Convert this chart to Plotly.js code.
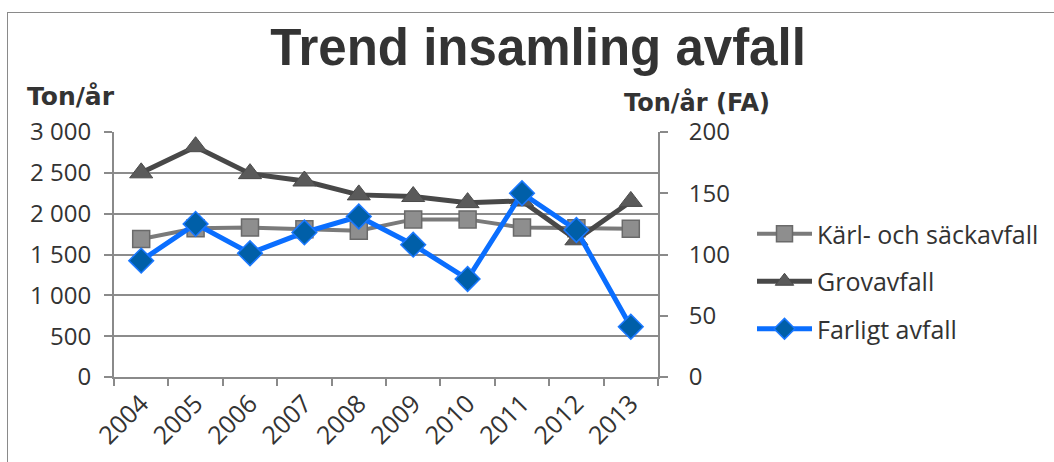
<!DOCTYPE html>
<html><head><meta charset="utf-8">
<script src="https://cdn.plot.ly/plotly-3.0.1.min.js"></script>
<style>
html,body{margin:0;padding:0;background:#fff;}
#frame{position:absolute;left:7px;top:12px;width:1060px;height:470px;border:1.5px solid #8a8a8a;box-sizing:border-box;}
#chart{position:absolute;left:0;top:0;width:1054px;height:462px;}
</style></head>
<body>
<div id="frame"></div>
<div id="chart"></div>
<script>
const years = ['2004','2005','2006','2007','2008','2009','2010','2011','2012','2013'];
const karl = [1690, 1820, 1830, 1810, 1790, 1930, 1930, 1830, 1820, 1815];
const grov = [2500, 2820, 2490, 2400, 2230, 2210, 2135, 2155, 1680, 2150];
const farligt = [95, 125, 101, 118, 131, 108, 80, 150, 120, 41];
const leftTicks = [0, 500, 1000, 1500, 2000, 2500, 3000];
const leftLabels = ['0', '500', '1 000', '1 500', '2 000', '2 500', '3 000'];

const fontFam = 'Open Sans, DejaVu Sans, sans-serif';
const boldFam = 'DejaVu Sans, Verdana, sans-serif';
const traces = [
  {x: years, y: karl, name: 'Kärl- och säckavfall', legendgroup: 'a', type: 'scatter', mode: 'lines+markers',
   line: {color: '#7a7a7a', width: 4},
   marker: {symbol: 'square', size: 17, color: '#8e8e8e', line: {color: '#6a6a6a', width: 1.5}}},
  {x: years, y: grov, name: 'Grovavfall', legendgroup: 'b', type: 'scatter', mode: 'lines+markers',
   line: {color: '#484848', width: 5},
   marker: {symbol: 'triangle-up', size: 20, color: '#5a5a5a', line: {color: '#4a4a4a', width: 1}}},
  {x: years, y: farligt, name: 'Farligt avfall', legendgroup: 'c', type: 'scatter', mode: 'lines+markers', yaxis: 'y2',
   line: {color: '#0a6eff', width: 5},
   marker: {symbol: 'diamond', size: 19, color: '#005fa8', line: {color: '#1a78ff', width: 1.5}}}
];
const layout = {
  width: 1054, height: 462,
  paper_bgcolor: 'rgba(0,0,0,0)', plot_bgcolor: 'rgba(0,0,0,0)',
  margin: {l: 114, r: 396, t: 132, b: 85},
  font: {family: fontFam, size: 24, color: '#333'},
  title: {text: '<b>Trend insamling avfall</b>', x: 538/1054, xanchor: 'center', y: 1 - 47/462, yanchor: 'middle',
          font: {family: 'Liberation Sans, Arial, sans-serif', size: 51, color: '#333'}},
  xaxis: {type: 'category', tickson: 'boundaries', ticks: 'outside', ticklen: 7, tickcolor: '#8a8a8a', tickwidth: 2,
          showline: true, linecolor: '#8a8a8a', linewidth: 2, showgrid: false, tickangle: -45,
          tickfont: {family: fontFam, size: 25, color: '#333'}, range: [-0.5, 9.5]},
  yaxis: {range: [0, 3000], tickvals: leftTicks, ticktext: leftLabels, ticks: 'outside', ticklen: 8,
          tickcolor: '#8a8a8a', tickwidth: 2, showline: true, linecolor: '#8a8a8a', linewidth: 2,
          gridcolor: '#8c8c8c', gridwidth: 2, zeroline: false, ticklabelstandoff: 8,
          tickfont: {family: fontFam, size: 24, color: '#333'}},
  yaxis2: {range: [0, 200], dtick: 50, overlaying: 'y', side: 'right', ticks: 'outside', ticklen: 8,
          tickcolor: '#8a8a8a', tickwidth: 2, showline: true, linecolor: '#8a8a8a', linewidth: 2,
          showgrid: false, zeroline: false, ticklabelstandoff: 16,
          tickfont: {family: fontFam, size: 24, color: '#333'}},
  showlegend: true,
  legend: {x: 752/1054, xanchor: 'left', y: 1 - 211/462, yanchor: 'top', xref: 'container', yref: 'container',
           font: {family: fontFam, size: 25, color: '#333'}, itemwidth: 55, tracegroupgap: 12,
           bgcolor: 'rgba(0,0,0,0)'},
  annotations: [
    {text: '<b>Ton/år</b>', xref: 'paper', yref: 'paper', x: (25-114)/544, xanchor: 'left', y: 1 + 36/245, yanchor: 'middle',
     showarrow: false, font: {family: boldFam, size: 25, color: '#333'}},
    {text: '<b>Ton/år (FA)</b>', xref: 'paper', yref: 'paper', x: (622-114)/544, xanchor: 'left', y: 1 + 30/245, yanchor: 'middle',
     showarrow: false, font: {family: boldFam, size: 24, color: '#333'}}
  ]
};
Plotly.newPlot('chart', traces, layout, {displayModeBar: false, staticPlot: true});
</script>
</body></html>
